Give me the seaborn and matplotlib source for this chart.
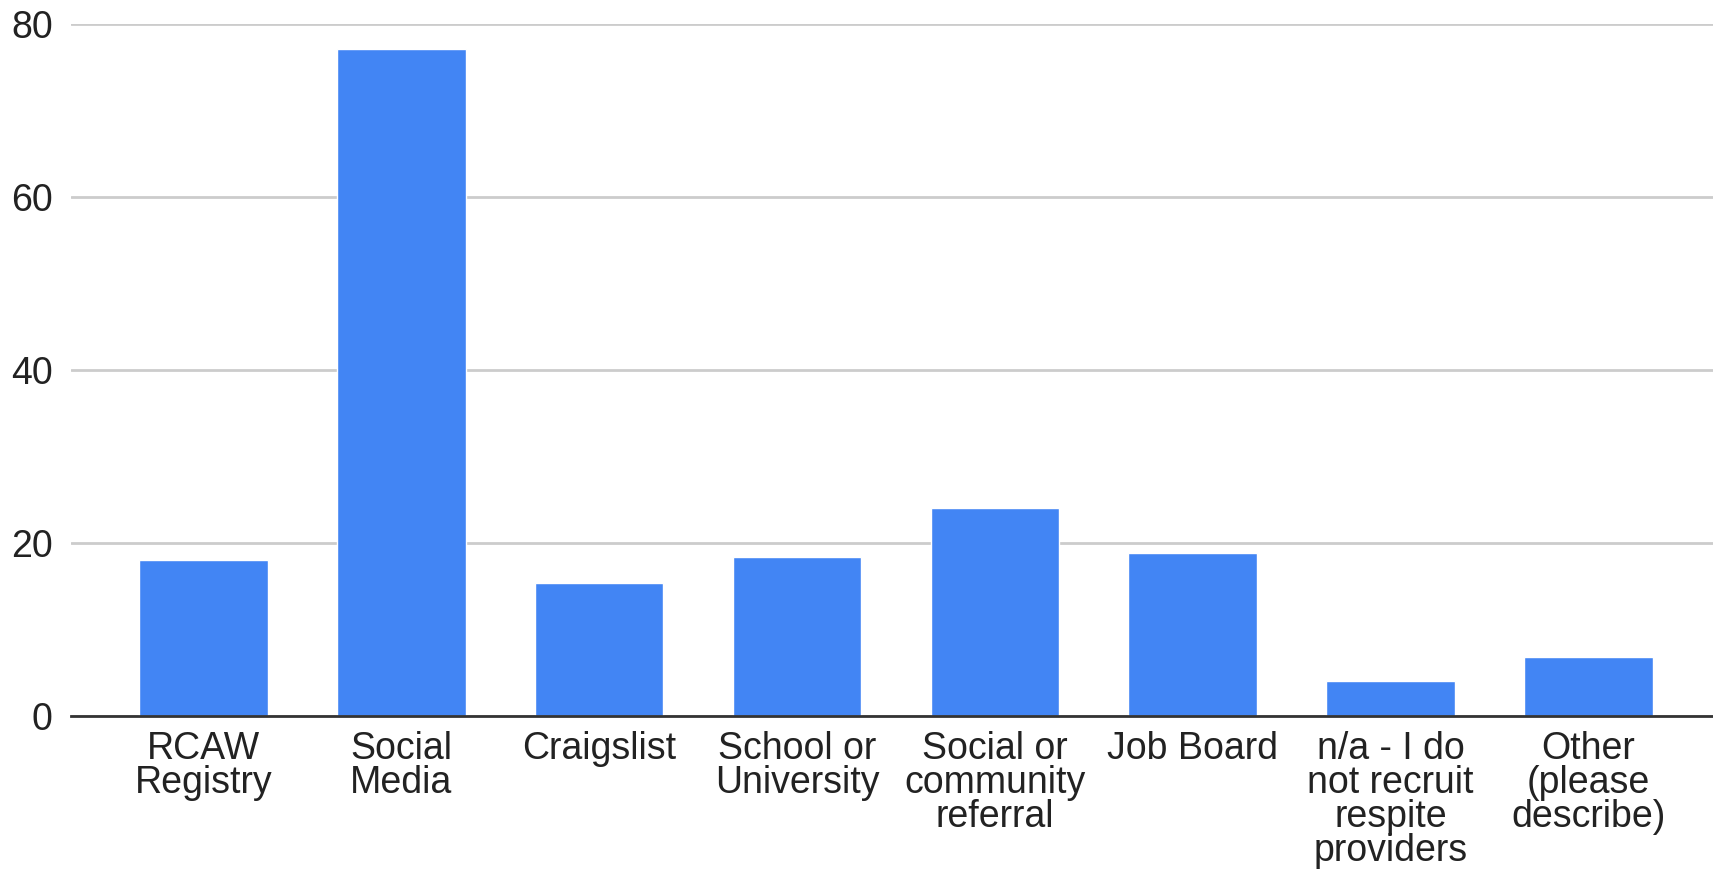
import matplotlib
matplotlib.use("Agg")
import matplotlib.pyplot as plt
import seaborn as sns
import pandas as pd

# values
categories = ["RCAW\nRegistry", "Social\nMedia", "Craigslist", "School or\nUniversity",
              "Social or\ncommunity\nreferral", "Job Board", "n/a - I do\nnot recruit\nrespite\nproviders",
              "Other\n(please\ndescribe)"]
values = [18, 77.1, 15.4, 18.4, 24.1, 18.8, 4.1, 6.8]
y_ticks = [0, 20, 40, 60, 80]

df = pd.DataFrame({"category": categories, "value": values})

sns.set_style("white")
plt.rcParams['font.family'] = ['Liberation Sans', 'DejaVu Sans']

fig = plt.figure(figsize=(17.13, 8.69), dpi=100)
ax = fig.add_axes([0.0414, 0.176, 0.9586, 0.7964])

sns.barplot(data=df, x="category", y="value", color="#4285F4", saturation=1,
            width=0.65, ax=ax, zorder=3)

ax.set_ylim(0, 80)
ax.set_xlim(-0.67, 7.63)
ax.set_yticks(y_ticks)
ax.yaxis.grid(True, color="#cccccc", linewidth=2, zorder=0)
ax.set_axisbelow(True)
for s in ["top", "right", "left"]:
    ax.spines[s].set_visible(False)
ax.spines["bottom"].set_color("#333333")
ax.spines["bottom"].set_linewidth(2)
ax.spines["bottom"].set_zorder(4)
ax.set_xlabel("")
ax.set_ylabel("")
ax.tick_params(axis="both", length=0, labelsize=27, colors="#222222")
ax.tick_params(axis="y", pad=13)
ax.tick_params(axis="x", pad=11)
for lbl in ax.get_xticklabels():
    lbl.set_linespacing(0.93)
    lbl.set_verticalalignment("top")

fig.savefig("out.png", dpi=100)
